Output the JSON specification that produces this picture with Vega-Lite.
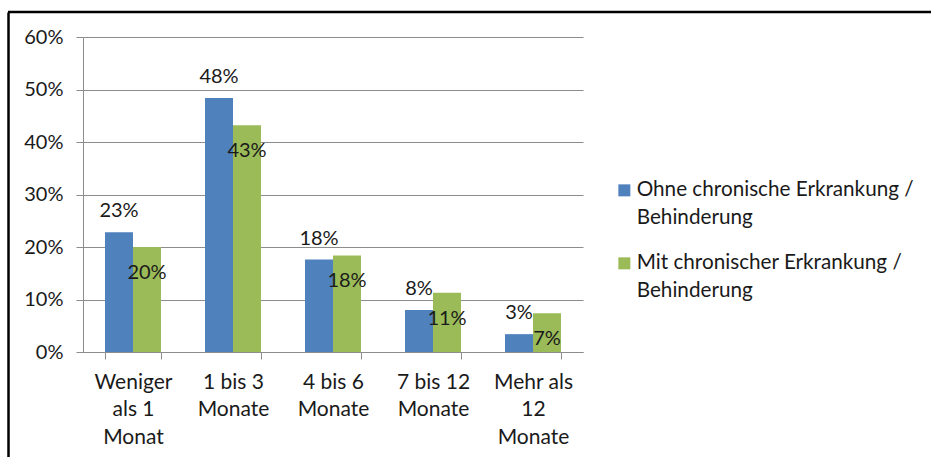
{
  "$schema": "https://vega.github.io/schema/vega-lite/v6.json",
  "width": 923,
  "height": 445,
  "autosize": {"type": "none"},
  "padding": {"left": 8, "top": 12, "right": 0, "bottom": 0},
  "background": "white",
  "config": {
    "font": "Lato",
    "view": {"stroke": "#000000", "strokeWidth": 2.5, "strokeDash": [923, 10000]},
    "style": {"guide-label": {"lineHeight": 28}},
    "axis": {
      "labelFont": "Lato",
      "labelFontSize": 20,
      "labelColor": "#1a1a1a",
      "domainColor": "#8c8c8c",
      "tickColor": "#8c8c8c",
      "gridColor": "#8c8c8c",
      "domainWidth": 1,
      "tickWidth": 1,
      "gridWidth": 1,
      "tickSize": 7
    }
  },
  "data": {
    "values": [
      {"Kategorie": "Weniger als 1 Monat", "Gruppe": "Ohne chronische Erkrankung / Behinderung", "Anteil": 0.228},
      {"Kategorie": "1 bis 3 Monate", "Gruppe": "Ohne chronische Erkrankung / Behinderung", "Anteil": 0.484},
      {"Kategorie": "4 bis 6 Monate", "Gruppe": "Ohne chronische Erkrankung / Behinderung", "Anteil": 0.176},
      {"Kategorie": "7 bis 12 Monate", "Gruppe": "Ohne chronische Erkrankung / Behinderung", "Anteil": 0.080},
      {"Kategorie": "Mehr als 12 Monate", "Gruppe": "Ohne chronische Erkrankung / Behinderung", "Anteil": 0.034},
      {"Kategorie": "Weniger als 1 Monat", "Gruppe": "Mit chronischer Erkrankung / Behinderung", "Anteil": 0.200},
      {"Kategorie": "1 bis 3 Monate", "Gruppe": "Mit chronischer Erkrankung / Behinderung", "Anteil": 0.432},
      {"Kategorie": "4 bis 6 Monate", "Gruppe": "Mit chronischer Erkrankung / Behinderung", "Anteil": 0.184},
      {"Kategorie": "7 bis 12 Monate", "Gruppe": "Mit chronischer Erkrankung / Behinderung", "Anteil": 0.113},
      {"Kategorie": "Mehr als 12 Monate", "Gruppe": "Mit chronischer Erkrankung / Behinderung", "Anteil": 0.074}
    ]
  },
  "encoding": {
    "x": {
      "field": "Kategorie",
      "type": "nominal",
      "sort": ["Weniger als 1 Monat", "1 bis 3 Monate", "4 bis 6 Monate", "7 bis 12 Monate", "Mehr als 12 Monate"],
      "scale": {"range": [75, 575], "paddingInner": 0.44, "paddingOuter": 0.22},
      "axis": {
        "title": null,
        "offset": -105,
        "labelAngle": 0,
        "tickBand": "extent",
        "tickExtra": false,
        "labelPadding": 12,
        "labelBaseline": "top",
        "labelFontSize": 21,
        "labelLineHeight": 27.5,
        "labelExpr": "datum.label == 'Weniger als 1 Monat' ? ['Weniger', 'als 1', 'Monat'] : datum.label == '1 bis 3 Monate' ? ['1 bis 3', 'Monate'] : datum.label == '4 bis 6 Monate' ? ['4 bis 6', 'Monate'] : datum.label == '7 bis 12 Monate' ? ['7 bis 12', 'Monate'] : datum.label == 'Mehr als 12 Monate' ? ['Mehr als', '12', 'Monate'] : ''"
      }
    },
    "xOffset": {
      "field": "Gruppe",
      "type": "nominal",
      "sort": ["Ohne chronische Erkrankung / Behinderung", "Mit chronischer Erkrankung / Behinderung"],
      "scale": {"paddingInner": 0, "paddingOuter": 0}
    }
  },
  "layer": [
    {
      "encoding": {
        "y": {
          "field": "Anteil",
          "type": "quantitative",
          "scale": {"domain": [0, 0.6], "range": [340, 25], "nice": false},
          "axis": {
            "orient": "left",
            "title": null,
            "offset": -75,
            "values": [0, 0.1, 0.2, 0.3, 0.4, 0.5, 0.6],
            "format": ".0%",
            "labelPadding": 13,
            "grid": true
          }
        }
      },
      "layer": [
        {
          "mark": {"type": "bar"},
          "encoding": {
            "color": {
              "field": "Gruppe",
              "type": "nominal",
              "sort": ["Ohne chronische Erkrankung / Behinderung", "Mit chronischer Erkrankung / Behinderung"],
              "scale": {"range": ["#4F81BD", "#9BBB59"]},
              "legend": {
                "orient": "none",
                "legendX": 606,
                "legendY": 168,
                "title": null,
                "padding": 0,
                "symbolType": "square",
                "symbolSize": 144,
                "symbolStrokeWidth": 0,
                "labelFont": "Lato",
                "labelFontSize": 20.7,
                "labelColor": "#1a1a1a",
                "labelOffset": 2,
                "labelLimit": 400,
                "labelBaseline": "top",
                "rowPadding": 23,
                "labelExpr": "datum.label == 'Ohne chronische Erkrankung / Behinderung' ? ['Ohne chronische Erkrankung /', 'Behinderung'] : ['Mit chronischer Erkrankung /', 'Behinderung']",
                "encode": {"labels": {"update": {"dy": {"value": -10}}}}
              }
            }
          }
        },
        {
          "transform": [{"filter": "datum.Gruppe == 'Ohne chronische Erkrankung / Behinderung'"}],
          "mark": {"type": "text", "dy": -21, "fontSize": 20, "font": "Lato", "color": "#1a1a1a", "baseline": "middle"},
          "encoding": {"text": {"field": "Anteil", "type": "quantitative", "format": ".0%"}}
        },
        {
          "transform": [{"filter": "datum.Gruppe == 'Mit chronischer Erkrankung / Behinderung'"}],
          "mark": {"type": "text", "dy": 26, "fontSize": 20, "font": "Lato", "color": "#1a1a1a", "baseline": "middle"},
          "encoding": {"text": {"field": "Anteil", "type": "quantitative", "format": ".0%"}}
        }
      ]
    },
    {
      "mark": {"type": "point", "opacity": 0},
      "encoding": {
        "y": {
          "field": "Anteil",
          "type": "quantitative",
          "scale": {"domain": [0, 0.6], "range": [445, 0], "nice": false},
          "axis": {
            "orient": "left",
            "offset": 0,
            "title": null,
            "grid": false,
            "ticks": false,
            "labels": false,
            "domainColor": "#000000",
            "domainWidth": 2.5
          }
        }
      }
    }
  ],
  "resolve": {"scale": {"y": "independent"}, "axis": {"y": "independent"}}
}
